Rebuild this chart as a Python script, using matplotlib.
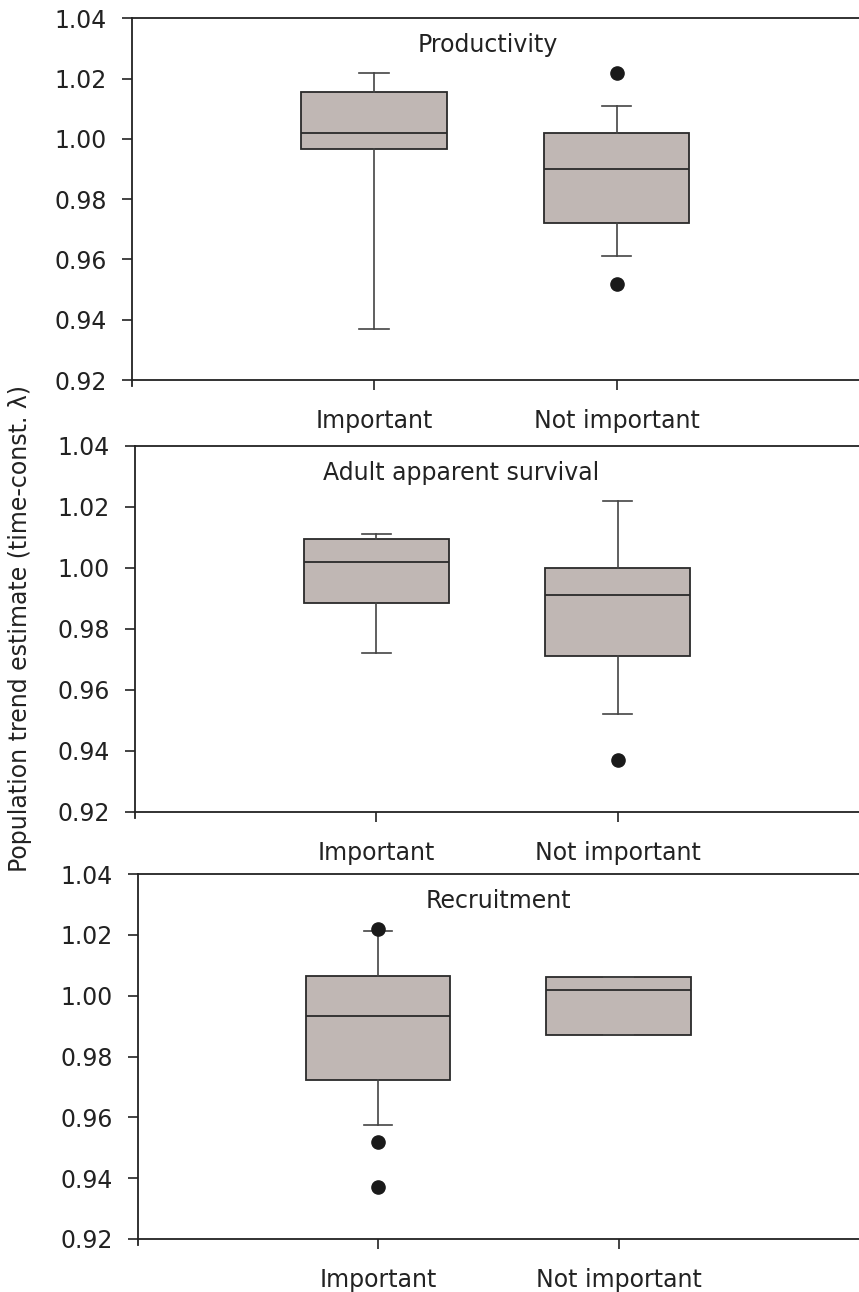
import matplotlib
matplotlib.use("Agg")
import matplotlib.pyplot as plt

# panels and categories
panel_titles = ["Productivity", "Adult apparent survival", "Recruitment"]
categories = ["Important", "Not important"]

# box statistics (Important, Not important)
prod_whislo = [0.937, 0.961]
prod_q1 = [0.9966, 0.972]
prod_med = [1.002, 0.990]
prod_q3 = [1.0157, 1.002]
prod_whishi = [1.022, 1.011]
prod_fliers = [[], [1.022, 0.952]]

surv_whislo = [0.972, 0.952]
surv_q1 = [0.9884, 0.971]
surv_med = [1.002, 0.991]
surv_q3 = [1.0095, 1.000]
surv_whishi = [1.011, 1.022]
surv_fliers = [[], [0.937]]

recr_whislo = [0.9575, 0.987]
recr_q1 = [0.9722, 0.987]
recr_med = [0.9932, 1.002]
recr_q3 = [1.0065, 1.0062]
recr_whishi = [1.0214, 1.0062]
recr_fliers = [[1.022, 0.952, 0.937], []]

y_ticks = [0.92, 0.94, 0.96, 0.98, 1.00, 1.02, 1.04]
y_label = "Population trend estimate (time-const. \u03bb)"

plt.rcParams['font.family'] = ['DejaVu Sans']

W, H = 859, 1292
fig = plt.figure(figsize=(W / 100, H / 100), dpi=100)

# axes boxes in pixels: left, top, right, bottom
boxes_px = [(131.5, 18.3, 859, 380), (135, 445.7, 859, 811.7), (137.5, 874, 859, 1239)]
title_x = [1.47, 1.35, 1.5]

data = [
    (prod_whislo, prod_q1, prod_med, prod_q3, prod_whishi, prod_fliers),
    (surv_whislo, surv_q1, surv_med, surv_q3, surv_whishi, surv_fliers),
    (recr_whislo, recr_q1, recr_med, recr_q3, recr_whishi, recr_fliers),
]

dark = '#222222'
for i, (l, t, r, b) in enumerate(boxes_px):
    ax = fig.add_axes([l / W, 1 - b / H, (r - l) / W, (b - t) / H])
    whislo, q1, med, q3, whishi, fliers = data[i]
    stats = []
    for j in range(len(categories)):
        stats.append(dict(med=med[j], q1=q1[j], q3=q3[j], whislo=whislo[j],
                          whishi=whishi[j], fliers=fliers[j], label=categories[j]))
    ax.bxp(stats, positions=[1, 2], widths=0.6, capwidths=0.12, patch_artist=True,
           showfliers=True,
           boxprops=dict(facecolor='#c0b7b4', edgecolor='#2a2a2a', linewidth=1.3),
           medianprops=dict(color='#2a2a2a', linewidth=1.3),
           whiskerprops=dict(color='#444444', linewidth=1.2),
           capprops=dict(color='#444444', linewidth=1.2),
           flierprops=dict(marker='o', markerfacecolor='#1a1a1a', markeredgecolor='#1a1a1a',
                           markersize=9.5))
    ax.set_xlim(0, 3)
    ax.set_ylim(0.92, 1.04)
    ax.set_yticks(y_ticks)
    ax.set_yticklabels(['%.2f' % v for v in y_ticks])
    ax.set_xticks([1, 2])
    ax.set_xticklabels(categories)
    ax.spines['right'].set_visible(False)
    for s in ['left', 'bottom', 'top']:
        ax.spines[s].set_linewidth(1.3)
        ax.spines[s].set_color(dark)
    ax.spines['left'].set_bounds(0.918, 1.04)
    ax.tick_params(axis='y', direction='out', length=7, width=1.2, color=dark,
                   labelsize=17, labelcolor=dark, pad=11)
    ax.tick_params(axis='x', direction='out', length=7, width=1.2, color=dark,
                   labelsize=17, labelcolor=dark, pad=14)
    ax.text(title_x[i], 1.031, panel_titles[i], ha='center', va='center',
            fontsize=17, color=dark)

fig.text(20 / W, 1 - 628 / H, y_label, rotation=90, ha='center', va='center',
         fontsize=17, color=dark)

fig.savefig('out.png', dpi=100)
